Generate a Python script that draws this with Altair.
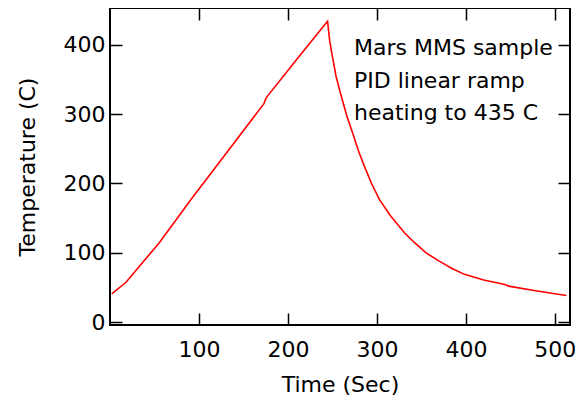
import altair as alt
import pandas as pd

time_s = [2, 18, 55, 91, 130, 173, 175, 177, 210, 244.5,
          247, 250, 254, 258, 261, 266, 272.6, 279, 285.8, 294, 302.7,
          315, 330.9, 342, 355.3, 370, 385, 398.4, 420, 445, 448, 480, 513]
temp_c = [41, 57.6, 114, 177, 242.6, 315, 322, 326, 379, 434,
          405, 383, 355, 335, 321, 298, 273, 248, 225, 200, 177,
          154, 129, 115, 100, 88, 77, 69, 61, 54, 52, 45, 38.5]
x_ticks = [100, 200, 300, 400, 500]
y_ticks = [0, 100, 200, 300, 400]
note_lines = ["Mars MMS sample", "PID linear ramp", "heating to 435 C"]

df = pd.DataFrame({"t": time_s, "T": temp_c})
FONT = "DejaVu Sans"
FS = 22
TS = 12
W, H = 460, 317
xs = alt.Scale(domain=[0, 517], nice=False, zero=False)
ys = alt.Scale(domain=[-4, 453], nice=False, zero=False)


def main_axis(title, orient, vals, pad, tpad):
    return alt.Axis(title=title, orient=orient, values=vals,
                    ticks=True, tickSize=TS, tickWidth=1.5, tickColor="black", offset=-TS,
                    domain=False, grid=False,
                    labelFont=FONT, labelFontSize=FS, labelColor="black", labelPadding=pad,
                    titleFont=FONT, titleFontSize=FS, titleColor="black", titleFontWeight="normal",
                    titlePadding=tpad)


def mirror_axis(orient, vals):
    return alt.Axis(title=None, orient=orient, values=vals, labels=False, domain=False, grid=False,
                    ticks=True, tickSize=TS, tickWidth=1.5, tickColor="black", offset=-TS)


frame = alt.Chart(pd.DataFrame({"k": [0]})).mark_rect(
    fill="transparent", stroke="black", strokeWidth=2
).encode(x=alt.value(0), x2=alt.value(W), y=alt.value(0), y2=alt.value(H))

line = alt.Chart(df).mark_line(color="#ff0000", strokeWidth=1.6).encode(
    x=alt.X("t:Q", scale=xs, axis=main_axis("Time (Sec)", "bottom", x_ticks, 14, 14)),
    y=alt.Y("T:Q", scale=ys, axis=main_axis("Temperature (C)", "left", y_ticks, 5, 24)),
)

mirror = alt.Chart(df).mark_point(opacity=0).encode(
    x=alt.X("t:Q", scale=xs, axis=mirror_axis("top", x_ticks)),
    y=alt.Y("T:Q", scale=ys, axis=mirror_axis("right", y_ticks)),
)

note = alt.Chart(pd.DataFrame({"k": [0]})).mark_text(
    align="left", baseline="alphabetic", font=FONT, fontSize=FS, lineHeight=32.5, color="black"
).encode(
    x=alt.value(244), y=alt.value(47), text=alt.value(note_lines)
)

chart = alt.layer(line, mirror, note, frame).resolve_axis(x="independent", y="independent").properties(
    width=W, height=H, autosize="none", background="white",
    padding={"left": 102, "top": 0, "right": 9, "bottom": 73},
).configure_view(stroke="black", strokeWidth=2)

chart.save("out.html", embed_options={"renderer": "svg", "actions": False})
